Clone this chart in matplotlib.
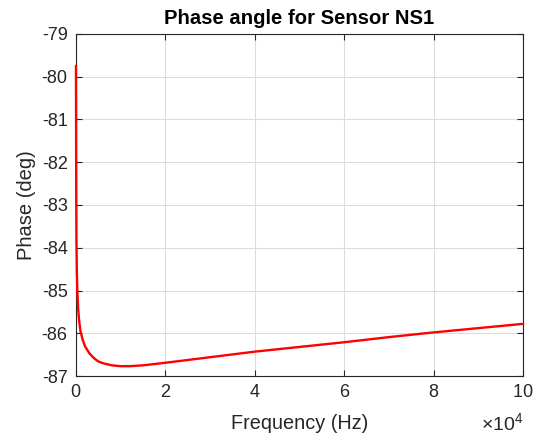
import matplotlib
matplotlib.use("Agg")
import matplotlib.pyplot as plt
from matplotlib.ticker import ScalarFormatter, MultipleLocator

# Phase response of sensor NS1
freq_hz = [0, 50, 100, 200, 300, 500, 700, 1000, 1500, 2000, 3000, 4000,
           5000, 6000, 8000, 10000, 12000, 15000, 20000, 30000, 40000,
           50000, 60000, 70000, 80000, 90000, 100000]
phase_deg = [-79.75, -82.5, -83.8, -84.6, -85.0, -85.45, -85.7, -85.95,
             -86.15, -86.3, -86.47, -86.58, -86.66, -86.70, -86.75, -86.77,
             -86.77, -86.75, -86.69, -86.56, -86.43, -86.32, -86.21, -86.09,
             -85.98, -85.88, -85.78]

plt.rcParams['font.family'] = ['Liberation Sans', 'DejaVu Sans']
plt.rcParams['mathtext.fontset'] = 'custom'
plt.rcParams['mathtext.rm'] = 'Liberation Sans'
plt.rcParams['axes.unicode_minus'] = False

fig = plt.figure(figsize=(5.4, 4.34), dpi=100)
ax = fig.add_axes([0.1407, 0.1336, 0.8278, 0.7881])

ax.plot(freq_hz, phase_deg, color='#ff0000', lw=1.7, zorder=3, clip_on=False)

ax.set_xlim(0, 100000)
ax.set_ylim(-87, -79)
ax.xaxis.set_major_locator(MultipleLocator(20000))
ax.yaxis.set_major_locator(MultipleLocator(1))

fmt = ScalarFormatter(useMathText=True)
fmt.set_powerlimits((4, 4))
ax.xaxis.set_major_formatter(fmt)
ax.xaxis.get_offset_text().set_visible(False)

axis_col = '#262626'
for s in ax.spines.values():
    s.set_color(axis_col)
    s.set_linewidth(0.8)
ax.tick_params(direction='in', top=True, right=True, length=4, width=0.8,
               color=axis_col, labelcolor=axis_col, labelsize=13, pad=6)
ax.grid(True, color='#dcdcdc', lw=0.8)
ax.set_axisbelow(True)

# axis multiplier drawn below the right end of the x axis
ax.text(1.0, -0.105, r'$\times\mathregular{10^{4}}$', transform=ax.transAxes,
        ha='right', va='top', fontsize=14, color=axis_col)

ax.set_title('Phase angle for Sensor NS1', fontsize=14.6, fontweight='bold', pad=7)
ax.set_xlabel('Frequency (Hz)', fontsize=14.3, color=axis_col, labelpad=9)
ax.set_ylabel('Phase (deg)', fontsize=14.5, color=axis_col, labelpad=4)

fig.savefig('out.png', dpi=100)
